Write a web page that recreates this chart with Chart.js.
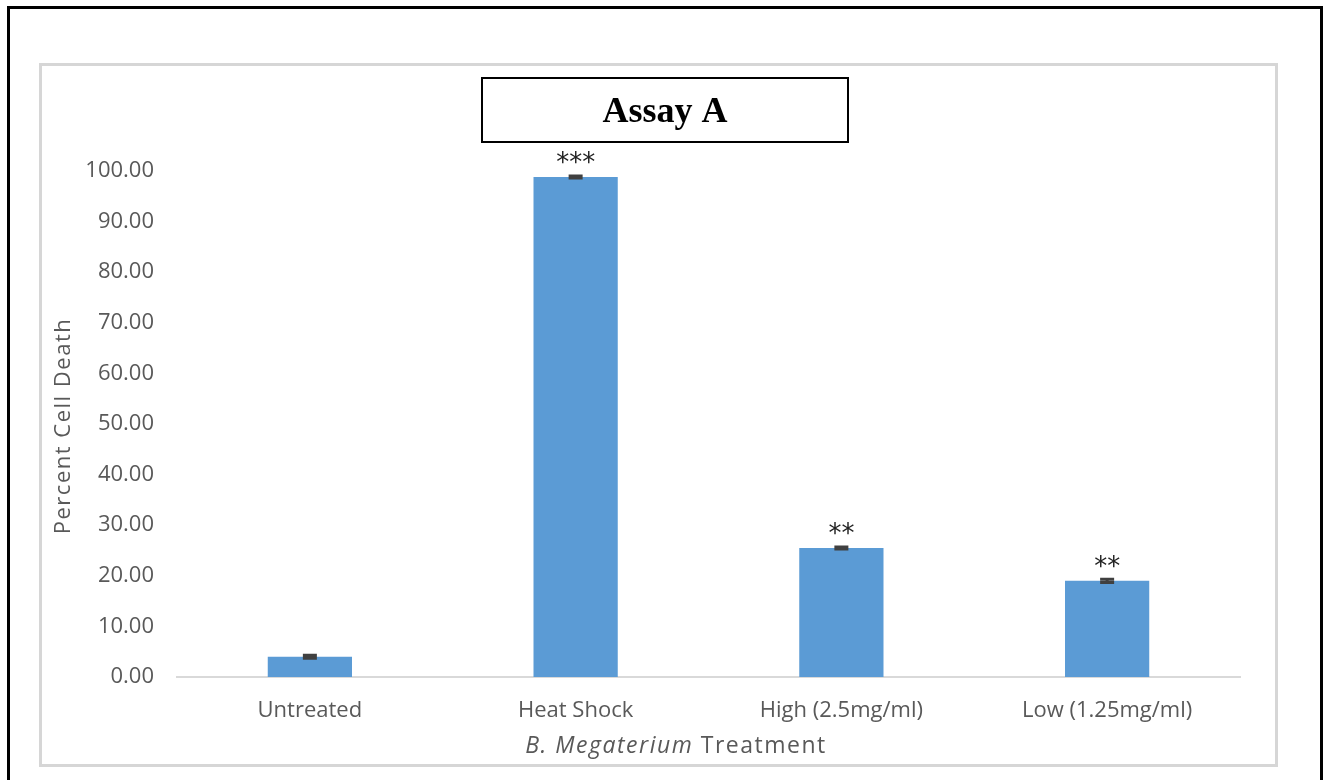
<!DOCTYPE html>
<html>
<head>
<meta charset="utf-8">
<script src="https://cdn.jsdelivr.net/npm/chart.js@4/dist/chart.umd.min.js"></script>
<style>
  html, body { margin: 0; padding: 0; background: #fff; }
  #wrap { position: relative; width: 1326px; height: 780px; }
</style>
</head>
<body>
<div id="wrap"><canvas id="chart-assay" width="1326" height="780"></canvas></div>
<script>
const categories = ['Untreated', 'Heat Shock', 'High (2.5mg/ml)', 'Low (1.25mg/ml)']
const cellDeath  = [4.0, 98.8, 25.5, 19.0]
const errors     = [0.3, 0.2, 0.2, 0.3]
const stars      = ['', '***', '**', '**']
const yTicks     = [0, 10, 20, 30, 40, 50, 60, 70, 80, 90, 100]

const TEXT = '#595959'
const FONT = '"Open Sans", "Noto Sans", sans-serif'

// frame, title box, axis titles, error bars and significance marks
const decor = {
  id: 'decor',
  beforeDraw(chart) {
    const c = chart.ctx
    c.save()
    c.fillStyle = '#fff'
    c.fillRect(0, 0, chart.width, chart.height)
    c.strokeStyle = '#000'; c.lineWidth = 3
    c.beginPath()
    c.moveTo(8.5, 780); c.lineTo(8.5, 7.5); c.lineTo(1321.5, 7.5); c.lineTo(1321.5, 780)
    c.stroke()
    c.strokeStyle = '#d6d6d6'; c.lineWidth = 3
    c.strokeRect(40.5, 64.5, 1236, 701)
    c.restore()
  },
  afterDatasetsDraw(chart) {
    const c = chart.ctx, x = chart.scales.x, y = chart.scales.y
    c.save()
    // error bars
    c.strokeStyle = '#404040'; c.lineWidth = 3
    cellDeath.forEach((v, i) => {
      const px = x.getPixelForValue(i)
      const lo = y.getPixelForValue(v - errors[i]), hi = y.getPixelForValue(v + errors[i])
      c.beginPath()
      c.moveTo(px, lo); c.lineTo(px, hi)
      c.moveTo(px - 7, hi); c.lineTo(px + 7, hi)
      c.moveTo(px - 7, lo); c.lineTo(px + 7, lo)
      c.stroke()
    })
    // significance
    c.fillStyle = '#222'; c.font = '26px "DejaVu Sans", sans-serif'
    c.textAlign = 'center'; c.textBaseline = 'middle'
    stars.forEach((s, i) => {
      if (!s) return
      c.fillText(s, x.getPixelForValue(i), y.getPixelForValue(cellDeath[i]) - 13)
    })
    // title box
    c.fillStyle = '#fff'; c.fillRect(482, 78, 366, 64)
    c.strokeStyle = '#000'; c.lineWidth = 2
    c.strokeRect(482, 78, 366, 64)
    c.fillStyle = '#000'; c.font = 'bold 36px "Liberation Serif", "Times New Roman", serif'
    c.fillText('Assay A', 665, 113)
    // y axis title
    c.fillStyle = TEXT; c.font = '22px ' + FONT
    c.save()
    c.letterSpacing = '1.5px'
    c.translate(64, 426); c.rotate(-Math.PI / 2)
    c.fillText('Percent Cell Death', 0, 0)
    c.restore()
    // x axis title, mixed italic
    c.letterSpacing = '1.5px'
    const a = 'B. Megaterium', b = ' Treatment'
    c.font = 'italic 23px ' + FONT
    const wa = c.measureText(a).width
    c.font = '23px ' + FONT
    const wb = c.measureText(b).width
    const sx = 676 - (wa + wb) / 2
    c.textAlign = 'left'
    c.font = 'italic 23px ' + FONT
    c.fillText(a, sx, 746)
    c.font = '23px ' + FONT
    c.fillText(b, sx + wa, 746)
    c.restore()
  }
}

new Chart(document.getElementById('chart-assay'), {
  type: 'bar',
  data: {
    labels: categories,
    datasets: [{
      label: 'Percent Cell Death',
      data: cellDeath,
      backgroundColor: '#5b9bd5',
      borderWidth: 0,
      categoryPercentage: 1,
      barPercentage: 0.317,
    }],
  },
  options: {
    responsive: false,
    animation: false,
    layout: { padding: { left: 0, right: 86, top: 171, bottom: 0 } },
    plugins: { legend: { display: false }, tooltip: { enabled: false }, title: { display: false } },
    scales: {
      x: {
        grid: { display: false, drawTicks: false },
        border: { color: '#d9d9d9', width: 2 },
        ticks: { color: TEXT, font: { family: FONT, size: 22 }, padding: 21 },
        afterFit: s => { s.height = 103 },
      },
      y: {
        min: 0, max: 100,
        grid: { display: false, drawTicks: false },
        border: { display: false },
        afterBuildTicks: s => { s.ticks = yTicks.map(v => ({ value: v })) },
        ticks: { color: TEXT, font: { family: FONT, size: 22 }, padding: 23, callback: v => v.toFixed(2) },
        afterFit: s => { s.width = 177 },
      },
    },
  },
  plugins: [decor],
})
</script>
</body>
</html>
